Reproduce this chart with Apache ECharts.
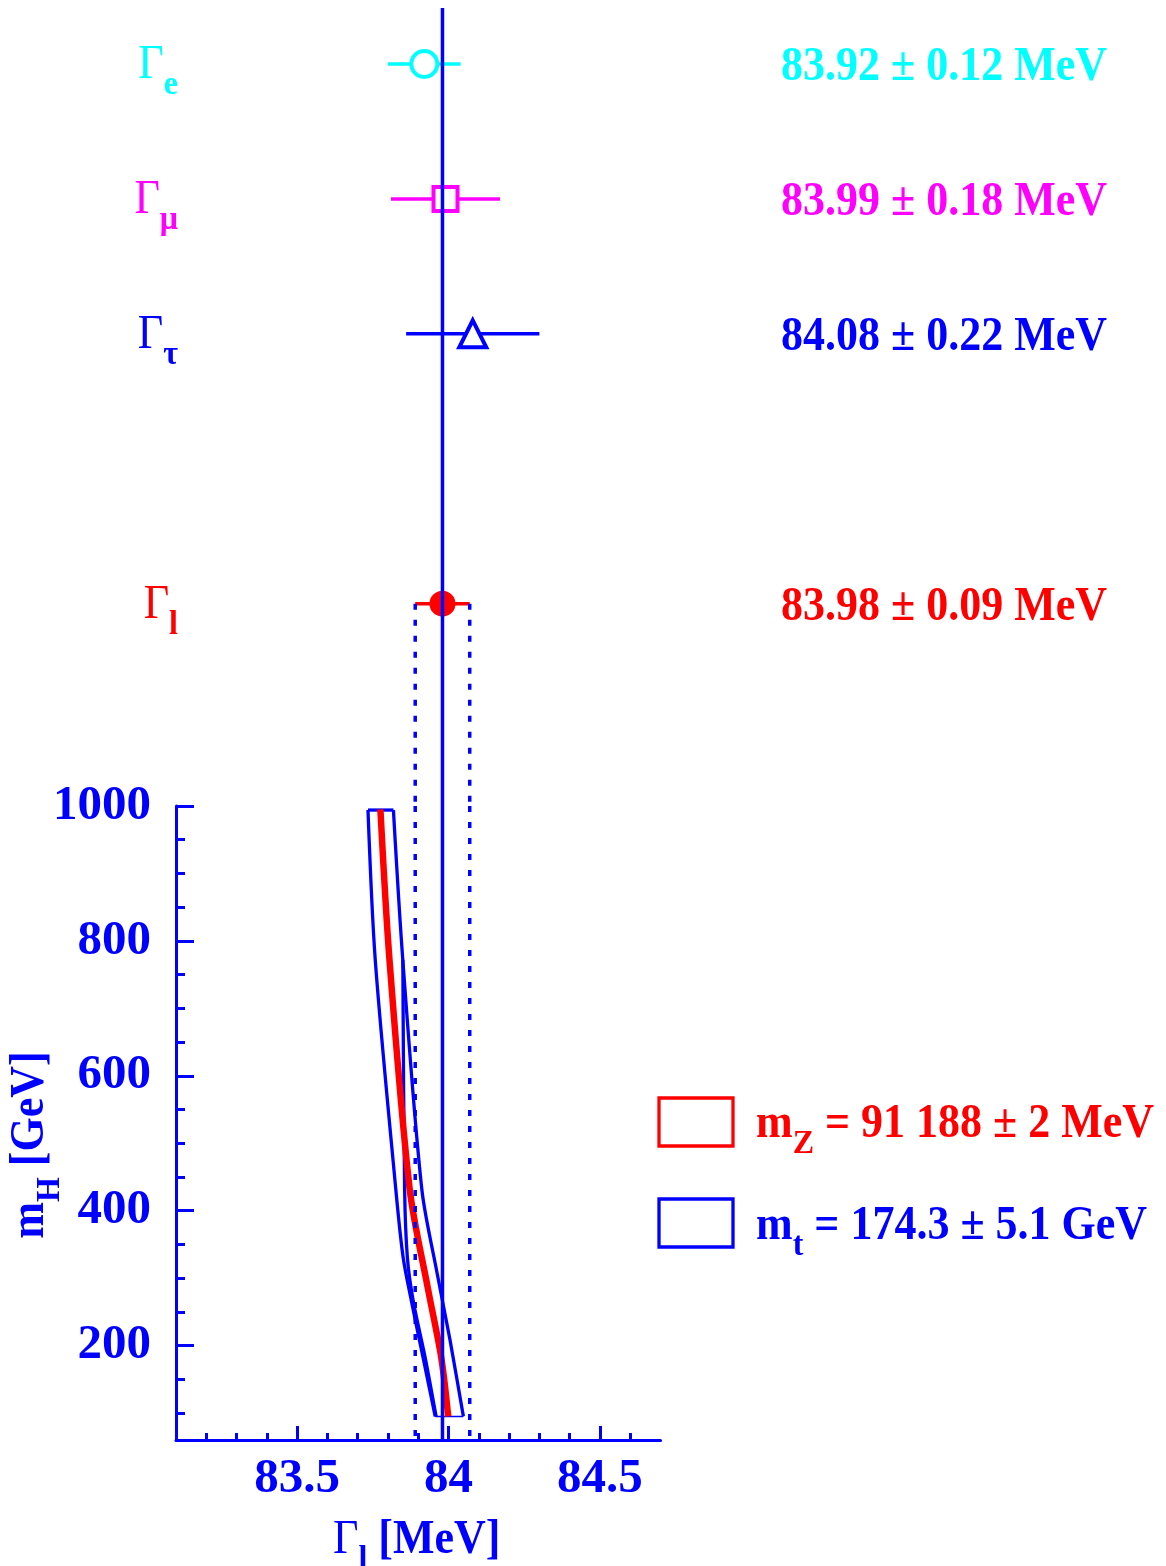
<!DOCTYPE html>
<html><head><meta charset="utf-8">
<script src="https://cdn.jsdelivr.net/npm/echarts@6/dist/echarts.min.js"></script>
<style>html,body{margin:0;padding:0;background:#fff}#c{width:1166px;height:1566px}</style>
</head><body><div id="c"></div>
<script>
// ---- data ----
const measNames = ['e', 'μ', 'τ', 'l'];
const measValues = [83.92, 83.99, 84.08, 83.98];
const measErrors = [0.12, 0.18, 0.22, 0.09];
const measRows = [2100, 1900, 1700, 1300];
const avgValue = 83.98;
const avgError = 0.09;

const mzMH = [995, 772, 431, 282, 182, 95];
const mzGamma = [83.775, 83.805, 83.872, 83.933, 83.976, 83.999];
const mtLeftMH = [994, 772, 431, 331, 267, 182, 95];
const mtLeftGamma = [83.734, 83.758, 83.826, 83.850, 83.877, 83.916, 83.956];
const mtRightMH = [994, 772, 431, 308, 208, 95];
const mtRightGamma = [83.818, 83.849, 83.912, 83.962, 84.005, 84.049];
const mtInnerMH = [772, 431, 331, 267, 182, 95];
const mtInnerGamma = [83.849, 83.855, 83.864, 83.883, 83.923, 83.959];

const xMajorTicks = [83.5, 84, 84.5];
const xMinorTicks = [83.2, 83.3, 83.4, 83.6, 83.7, 83.8, 83.9, 84.1, 84.2, 84.3, 84.4, 84.6];
const yMajorTicks = [200, 400, 600, 800, 1000];
const yMinorTicks = [100, 150, 250, 300, 350, 450, 500, 550, 650, 700, 750, 850, 900, 950];

const legendMZ = '91 188 ± 2 MeV';
const legendMT = '174.3 ± 5.1 GeV';

// ---- ranges / styles ----
const X_MIN = 83.1, X_MAX = 84.7;
const Y_MIN = 60, Y_MAX = 1000, UP_MAX = 2183;
const FAM = '"Liberation Serif", "Times New Roman", serif';
const BLUE = '#0000ff', RED = '#ff0000';
const rowColors = ['#00ffff', '#ff00ff', '#0000ff', '#ff0000'];
const rowSymbols = ['circle', 'rect', 'triangle', 'circle'];
const rowSizes = [26, 24, 27, 26];
const rowFilled = [false, false, false, true];
const SY = 1.08; // vertical stretch of the lettering
function font(w, s) { return w + ' ' + s + 'px ' + FAM; }
function rich(color) {
  return {
    g: { font: font('normal', 44), fill: color, lineHeight: 44, verticalAlign: 'top' },
    b: { font: font('bold', 44), fill: color, lineHeight: 44, verticalAlign: 'top' },
    s: { font: font('bold', 32), fill: color, lineHeight: 80 }
  };
}
const pairs = (xs, ys) => xs.map((x, i) => [x, ys[i]]);
const last = a => a[a.length - 1];

const leftEdge = pairs(mtLeftGamma, mtLeftMH);
const rightEdge = pairs(mtRightGamma, mtRightMH);
const innerEdge = pairs(mtInnerGamma, mtInnerMH);
const topEdge = [leftEdge[0], rightEdge[0]];
const bottomEdge = [last(leftEdge), last(rightEdge)];
const lRow = measRows[3];

const gridBox = { left: 176, width: 484.5 };
const lineSer = (xi, data, color, width, z, type, smooth) => ({
  type: 'line', xAxisIndex: xi, yAxisIndex: xi, data: data, symbol: 'none', silent: true,
  smooth: smooth || false,
  lineStyle: { color: color, width: width, type: type || 'solid', cap: 'butt', join: 'round' }, z: z, clip: false
});
const labelFmt = v => String(v);

const option = {
  animation: false,
  backgroundColor: '#fff',
  grid: [
    Object.assign({ top: 8, height: 798 }, gridBox),
    Object.assign({ top: 806, height: 634 }, gridBox),
    Object.assign({ top: 806, height: 634 }, gridBox)
  ],
  xAxis: [
    { gridIndex: 0, type: 'value', min: X_MIN, max: X_MAX, show: false },
    { gridIndex: 1, type: 'value', min: X_MIN, max: X_MAX, splitLine: { show: false },
      axisLine: { onZero: false, lineStyle: { color: BLUE, width: 3 } },
      axisTick: { inside: true, length: 14, customValues: xMajorTicks, lineStyle: { color: BLUE, width: 3 } },
      axisLabel: { customValues: xMajorTicks, formatter: labelFmt, margin: 15, color: BLUE, fontSize: 49, fontWeight: 'bold', fontFamily: FAM } },
    { gridIndex: 2, type: 'value', min: X_MIN, max: X_MAX, splitLine: { show: false },
      axisLine: { show: false },
      axisTick: { inside: true, length: 7, customValues: xMinorTicks, lineStyle: { color: BLUE, width: 3 } },
      axisLabel: { show: false } }
  ],
  yAxis: [
    { gridIndex: 0, type: 'value', min: Y_MAX, max: UP_MAX, show: false },
    { gridIndex: 1, type: 'value', min: Y_MIN, max: Y_MAX, splitLine: { show: false },
      axisLine: { onZero: false, lineStyle: { color: BLUE, width: 3 } },
      axisTick: { inside: true, length: 18, customValues: yMajorTicks, lineStyle: { color: BLUE, width: 3 } },
      axisLabel: { customValues: yMajorTicks, formatter: labelFmt, margin: 25, padding: [5, 0, 0, 0], color: BLUE, fontSize: 49, fontWeight: 'bold', fontFamily: FAM } },
    { gridIndex: 2, type: 'value', min: Y_MIN, max: Y_MAX, splitLine: { show: false },
      axisLine: { show: false },
      axisTick: { inside: true, length: 9, customValues: yMinorTicks, lineStyle: { color: BLUE, width: 3 } },
      axisLabel: { show: false } }
  ],
  series: [
    // m_t band outline
    lineSer(1, leftEdge, BLUE, 3.3, 2, null, 0.3),
    lineSer(1, rightEdge, BLUE, 3.3, 2, null, 0.3),
    lineSer(1, innerEdge, BLUE, 3.3, 2, null, 0.3),
    lineSer(1, topEdge, BLUE, 3.3, 2),
    lineSer(1, bottomEdge, BLUE, 1.5, 2),
    // m_Z band
    lineSer(1, pairs(mzGamma, mzMH), RED, 6.5, 3, null, 0.3),
    // dashed error box of Gamma_l
    lineSer(0, [[avgValue - avgError, lRow], [avgValue - avgError, Y_MAX]], BLUE, 3.5, 4, [6, 10]),
    lineSer(0, [[avgValue + avgError, lRow], [avgValue + avgError, Y_MAX]], BLUE, 3.5, 4, [6, 10]),
    lineSer(1, [[avgValue - avgError, Y_MAX], [avgValue - avgError, Y_MIN]], BLUE, 3.5, 4, [6, 10]),
    lineSer(1, [[avgValue + avgError, Y_MAX], [avgValue + avgError, Y_MIN]], BLUE, 3.5, 4, [6, 10]),
    // central value line
    lineSer(0, [[avgValue, UP_MAX], [avgValue, Y_MAX]], BLUE, 3.5, 10),
    lineSer(1, [[avgValue, Y_MAX], [avgValue, Y_MIN]], BLUE, 3.5, 10),
    // measurement error bars + labels
    {
      type: 'custom', xAxisIndex: 0, yAxisIndex: 0, silent: true, z: 2, clip: false,
      data: measValues.map((v, i) => [v, measErrors[i], measRows[i]]),
      renderItem: function (params, api) {
        const i = params.dataIndex;
        const v = api.value(0), e = api.value(1), y = api.value(2);
        const a = api.coord([v - e, y]), b = api.coord([v + e, y]);
        const l = api.coord([X_MIN, y]);
        const c = rowColors[i];
        return { type: 'group', children: [
          { type: 'line', shape: { x1: a[0], y1: a[1], x2: b[0], y2: b[1] }, style: { stroke: c, lineWidth: 3.5 } },
          { type: 'text', x: l[0] + 2, y: a[1] - 22, scaleY: SY, style: {
              text: '{g|Γ}{s|' + measNames[i] + '}', rich: rich(c), align: 'right', verticalAlign: 'top' } },
          { type: 'text', x: 781, y: a[1] + 4, scaleY: SY, style: {
              text: measValues[i].toFixed(2) + ' ± ' + measErrors[i].toFixed(2) + ' MeV',
              font: font('bold', 44), fill: c, align: 'left', verticalAlign: 'middle' } }
        ] };
      }
    },
    {
      type: 'scatter', xAxisIndex: 0, yAxisIndex: 0, silent: true, z: 3,
      data: measValues.map((v, i) => ({
        value: [v, measRows[i]], symbol: rowSymbols[i], symbolSize: rowSizes[i],
        itemStyle: { color: rowFilled[i] ? rowColors[i] : '#fff', borderColor: rowColors[i], borderWidth: rowFilled[i] ? 0 : 4, opacity: 1 }
      }))
    }
  ],
  graphic: [
    { type: 'text', x: 333, y: 1517, scaleY: SY, style: { text: '{g|Γ}{s|l}{b| [MeV]}', rich: rich(BLUE), align: 'left', verticalAlign: 'top' } },
    { type: 'text', x: 31, y: 1145, rotation: Math.PI / 2, scaleY: SY,
      style: { text: '{b|m}{s|H}{b| [GeV]}', rich: rich(BLUE), x: 0, y: -22, align: 'center', verticalAlign: 'top' } },
    { type: 'rect', shape: { x: 659, y: 1098, width: 74, height: 48 }, style: { fill: 'none', stroke: RED, lineWidth: 3.3 } },
    { type: 'text', x: 756, y: 1101, scaleY: SY, style: { text: '{b|m}{s|Z}{b| = ' + legendMZ + '}', rich: rich(RED), align: 'left', verticalAlign: 'top' } },
    { type: 'rect', shape: { x: 659, y: 1199, width: 74, height: 48 }, style: { fill: 'none', stroke: BLUE, lineWidth: 3.3 } },
    { type: 'text', x: 756, y: 1203, scaleY: SY, style: { text: '{b|m}{s|t}{b| = ' + legendMT + '}', rich: rich(BLUE), align: 'left', verticalAlign: 'top' } }
  ]
};
const chart = echarts.init(document.getElementById('c'), null, { renderer: 'canvas' });
chart.setOption(option);
</script>
</body></html>
